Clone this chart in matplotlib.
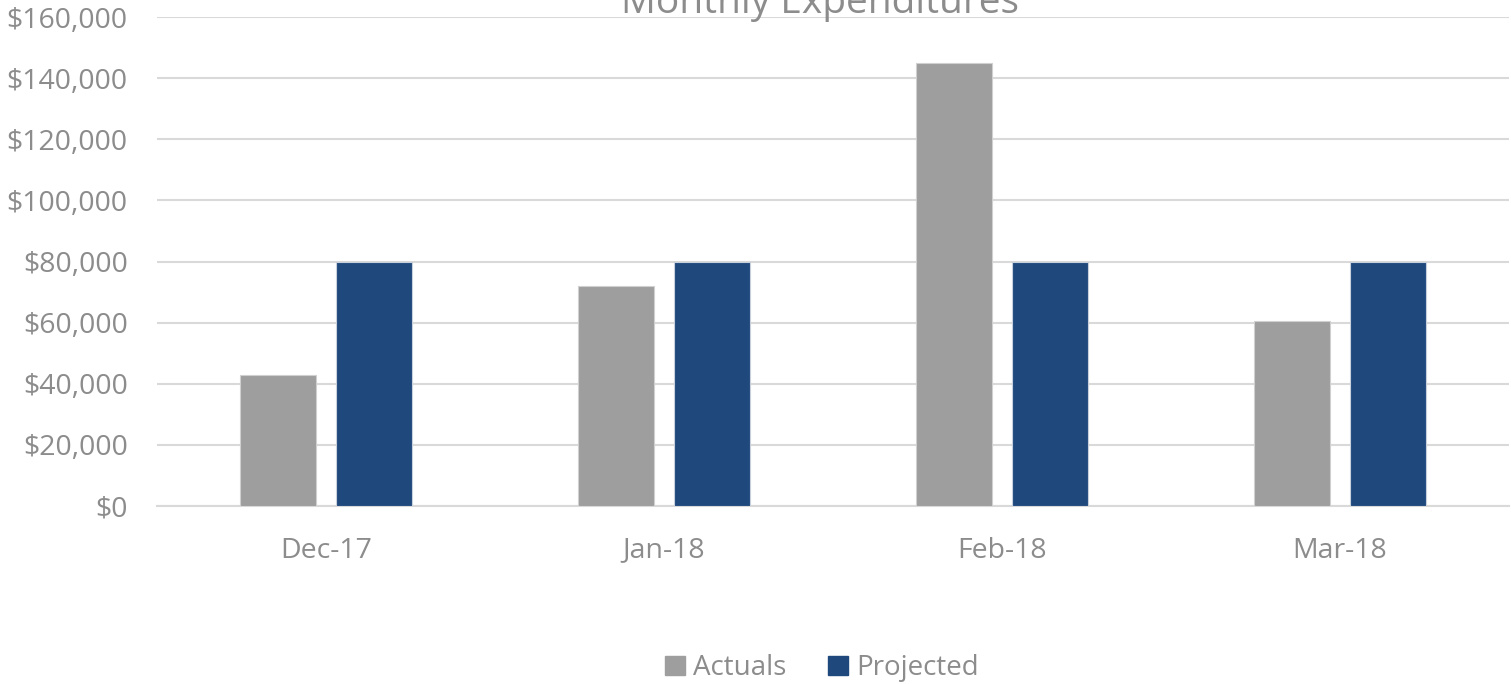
import matplotlib
matplotlib.use('Agg')
import matplotlib.pyplot as plt
from matplotlib.patches import Patch
import numpy as np

months = ['Dec-17', 'Jan-18', 'Feb-18', 'Mar-18']
actuals = [43000, 72000, 145000, 60500]
projected = [80000, 80000, 80000, 80000]
yticks = [0, 20000, 40000, 60000, 80000, 100000, 120000, 140000, 160000]

plt.rcParams['font.family'] = ['Open Sans', 'DejaVu Sans']
textColor = '#8c8c8c'
grayBar = '#9e9e9e'
blueBar = '#1f497d'

fig = plt.figure(figsize=(15.11, 6.84), dpi=100)
ax = fig.add_axes([157/1511, 1 - 506/684, 1352/1511, 489/684])

x = np.arange(len(months))
w = 0.222
ax.bar(x - 0.142, actuals, w, color=grayBar, edgecolor='#d0d0d0', linewidth=0.8, zorder=3)
ax.bar(x + 0.142, projected, w, color=blueBar, edgecolor='#c8d0dc', linewidth=0.8, zorder=3)

ax.set_xlim(-0.5, 3.5)
ax.set_ylim(0, 160000)
ax.set_yticks(yticks)
ax.set_yticklabels(['${:,}'.format(v) for v in yticks])
ax.set_xticks(x)
ax.set_xticklabels(months)
ax.tick_params(axis='both', length=0, labelsize=20.5, labelcolor=textColor)
ax.tick_params(axis='y', pad=21)
ax.tick_params(axis='x', pad=22)
ax.grid(axis='y', color='#d9d9d9', linewidth=1.5, zorder=0)
for s in ['top', 'right', 'left']:
    ax.spines[s].set_visible(False)
ax.spines['bottom'].set_color('#d9d9d9')
ax.spines['bottom'].set_linewidth(1.5)

# title sits mostly above the canvas, as in the original
fig.text(820/1511, 1 - 13/684, 'Monthly Expenditures', ha='center', va='baseline',
         fontsize=28, color=textColor)

handles = [Patch(color=grayBar, label='Actuals'), Patch(color=blueBar, label='Projected')]
fig.legend(handles=handles, loc='center', bbox_to_anchor=(822/1511, 1 - 668/684),
           ncol=2, frameon=False, fontsize=20, labelcolor=textColor,
           handlelength=0.7, handleheight=0.7, handletextpad=0.3, columnspacing=1.5)

fig.savefig('out.png', dpi=100)
